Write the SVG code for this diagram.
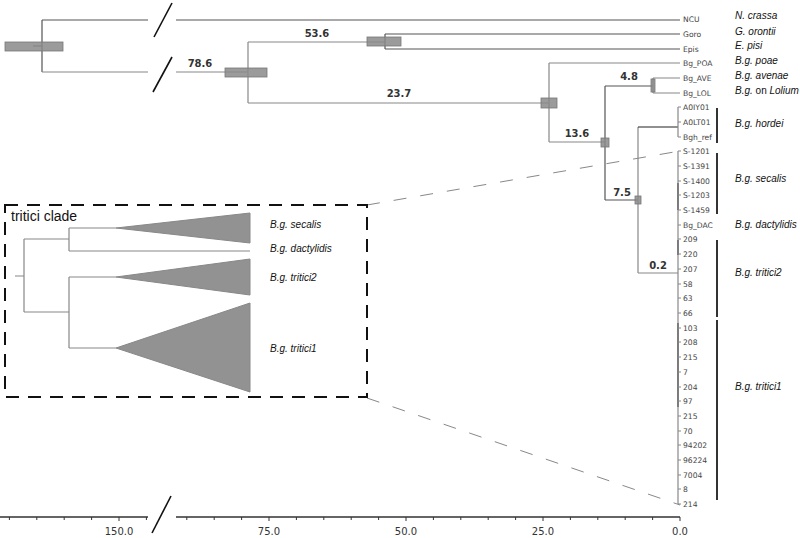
<svg xmlns="http://www.w3.org/2000/svg" width="800" height="538" viewBox="0 0 800 538">
<style>
.br{fill:none;stroke:#888;stroke-width:1.2}
.dk{fill:none;stroke:#555;stroke-width:1.2}
.hpd{fill:#8a8a8a;fill-opacity:0.85;stroke:#777;stroke-width:0.8}
.tip{font-family:"DejaVu Sans",sans-serif;font-size:7.6px;fill:#444}
.bl{font-family:"DejaVu Sans",sans-serif;font-size:10px;font-weight:bold;fill:#333}
.cl{font-family:"Liberation Sans",Arial,sans-serif;font-size:10px;font-style:italic;fill:#111}
.ax{font-family:"DejaVu Sans",sans-serif;font-size:10px;fill:#333}
.bar{stroke:#333;stroke-width:2}
.slash{stroke:#111;stroke-width:1.6}
.zoom{fill:none;stroke:#888;stroke-width:1;stroke-dasharray:13 14}
.tri{fill:#929292;stroke:#888;stroke-width:1}
</style>
<rect width="800" height="538" fill="#fff"/>

<g id="connectors">
  <path class="dk" d="M33,46 H42 M42,20 V72"/>
  <path class="dk" d="M42,20 H148 M176,20 H680"/>
  <path class="br" d="M42,72 H148 M176,72 H248"/>
  <path class="br" d="M248,42 V103"/>
  <path class="br" d="M248,42 H385"/>
  <path class="dk" d="M385,34 V49 M385,34 H680 M385,49 H680"/>
  <path class="br" d="M248,103 H549"/>
  <path class="br" d="M549,63 V142 M549,63 H680 M549,142 H605"/>
  <path class="dk" d="M605,86 V200 M605,86 H653 M605,200 H638"/>
  <path class="br" d="M653,78 V93 M653,78 H680 M653,93 H680"/>
  <path class="br" d="M638,127 V273"/>
  <path style="fill:none;stroke:#222;stroke-width:1.2" d="M638,127 H678"/>
  <path class="br" d="M638,273 H678"/>
  <path class="br" d="M678,107 V137 M678,107 H681 M678,122 H681 M678,137 H681"/>
  <path class="br" d="M678,151 V504"/>
  <path class="dk" d="M678,183 V210 M678,240 V255 M678,323 V407"/>
  <path class="br" d="M678,151 H681 M678,166 H681 M678,181 H681 M678,195 H681 M678,210 H681 M678,225 H681 M678,239 H681 M678,254 H681 M678,269 H681 M678,284 H681 M678,298 H681 M678,313 H681 M678,328 H681 M678,342 H681 M678,357 H681 M678,372 H681 M678,387 H681 M678,401 H681 M678,416 H681 M678,431 H681 M678,445 H681 M678,460 H681 M678,475 H681 M678,489 H681 M678,504 H681"/>
  <line class="slash" x1="154" y1="37" x2="172" y2="3"/>
  <line class="slash" x1="153" y1="92" x2="172" y2="57"/>
  <line class="zoom" x1="367" y1="205" x2="680" y2="151"/>
  <line class="zoom" x1="367" y1="398" x2="680" y2="505"/>
</g>

<g id="hpd-bars">
  <rect class="hpd" x="5" y="42" width="58" height="9"/>
  <rect class="hpd" x="225" y="68" width="42" height="9"/>
  <rect class="hpd" x="367" y="37" width="34" height="9"/>
  <rect class="hpd" x="541" y="98" width="16" height="10"/>
  <rect class="hpd" x="601" y="138" width="8" height="9"/>
  <rect class="hpd" x="651" y="79" width="4" height="13"/>
  <rect class="hpd" x="635" y="196" width="6" height="8"/>
</g>

<g id="branch-labels">
  <text class="bl" x="200" y="67" text-anchor="middle">78.6</text>
  <text class="bl" x="317" y="37" text-anchor="middle">53.6</text>
  <text class="bl" x="399" y="97" text-anchor="middle">23.7</text>
  <text class="bl" x="577" y="137" text-anchor="middle">13.6</text>
  <text class="bl" x="629" y="80" text-anchor="middle">4.8</text>
  <text class="bl" x="622" y="196" text-anchor="middle">7.5</text>
  <text class="bl" x="658" y="269" text-anchor="middle">0.2</text>
</g>

<g id="tips">
  <text class="tip" x="683" y="22">NCU</text>
  <text class="tip" x="683" y="37">Goro</text>
  <text class="tip" x="683" y="52">Epis</text>
  <text class="tip" x="683" y="66">Bg_POA</text>
  <text class="tip" x="683" y="81">Bg_AVE</text>
  <text class="tip" x="683" y="96">Bg_LOL</text>
  <text class="tip" x="683" y="110">A0IY01</text>
  <text class="tip" x="683" y="125">A0LT01</text>
  <text class="tip" x="683" y="140">Bgh_ref</text>
  <text class="tip" x="683" y="154">S-1201</text>
  <text class="tip" x="683" y="169">S-1391</text>
  <text class="tip" x="683" y="184">S-1400</text>
  <text class="tip" x="683" y="198">S-1203</text>
  <text class="tip" x="683" y="213">S-1459</text>
  <text class="tip" x="683" y="228">Bg_DAC</text>
  <text class="tip" x="683" y="242">209</text>
  <text class="tip" x="683" y="257">220</text>
  <text class="tip" x="683" y="272">207</text>
  <text class="tip" x="683" y="287">58</text>
  <text class="tip" x="683" y="301">63</text>
  <text class="tip" x="683" y="316">66</text>
  <text class="tip" x="683" y="331">103</text>
  <text class="tip" x="683" y="345">208</text>
  <text class="tip" x="683" y="360">215</text>
  <text class="tip" x="683" y="375">7</text>
  <text class="tip" x="683" y="390">204</text>
  <text class="tip" x="683" y="404">97</text>
  <text class="tip" x="683" y="419">215</text>
  <text class="tip" x="683" y="434">70</text>
  <text class="tip" x="683" y="448">94202</text>
  <text class="tip" x="683" y="463">96224</text>
  <text class="tip" x="683" y="478">7004</text>
  <text class="tip" x="683" y="492">8</text>
  <text class="tip" x="683" y="507">214</text>
</g>

<g id="clades">
  <line class="bar" x1="717" y1="108" x2="717" y2="143"/>
  <line class="bar" x1="717" y1="153" x2="717" y2="214"/>
  <line class="bar" x1="717" y1="240" x2="717" y2="317"/>
  <line class="bar" x1="717" y1="320" x2="717" y2="500"/>
  <text class="cl" x="735" y="19">N. crassa</text>
  <text class="cl" x="735" y="35">G. orontii</text>
  <text class="cl" x="735" y="49">E. pisi</text>
  <text class="cl" x="735" y="64">B.g. poae</text>
  <text class="cl" x="735" y="79">B.g. avenae</text>
  <text class="cl" x="735" y="94">B.g. <tspan font-style="normal">on</tspan> Lolium</text>
  <text class="cl" x="735" y="127">B.g. hordei</text>
  <text class="cl" x="735" y="182">B.g. secalis</text>
  <text class="cl" x="735" y="228">B.g. dactylidis</text>
  <text class="cl" x="735" y="276">B.g. tritici2</text>
  <text class="cl" x="735" y="390">B.g. tritici1</text>
</g>

<g id="inset">
  <rect x="5" y="205" width="362" height="192" fill="none" stroke="#111" stroke-width="2" stroke-dasharray="13 9"/>
  <text x="11" y="221" font-family="Liberation Sans, Arial, sans-serif" font-size="14" fill="#111">tritici clade</text>
  <path class="br" d="M15,276 H24 M24,239 V312 M24,239 H69 M24,312 H69 M69,228 V251 M69,228 H116 M69,251 H250 M69,277 V348 M69,277 H116 M69,348 H116"/>
  <polygon class="tri" points="116,228 250,213 250,243"/>
  <polygon class="tri" points="116,277 250,259 250,295"/>
  <polygon class="tri" points="116,348 250,303 250,392"/>
  <text class="cl" x="270" y="228">B.g. secalis</text>
  <text class="cl" x="270" y="252">B.g. dactylidis</text>
  <text class="cl" x="270" y="281">B.g. tritici2</text>
  <text class="cl" x="270" y="352">B.g. tritici1</text>
</g>

<g id="axis">
  <path d="M0,517 H148 M176,517 H680" stroke="#333" stroke-width="1.5" fill="none"/>
  <path d="M9.4,517 v3 M36.8,517 v3 M64.2,517 v3 M91.6,517 v3 M119,517 v4 M146.4,517 v3 M186.8,517 v3 M214.2,517 v3 M241.6,517 v3 M269,517 v4 M296.4,517 v3 M323.8,517 v3 M351.2,517 v3 M378.6,517 v3 M406,517 v4 M433.4,517 v3 M460.8,517 v3 M488.2,517 v3 M515.6,517 v3 M543,517 v4 M570.4,517 v3 M597.8,517 v3 M625.2,517 v3 M652.6,517 v3 M680,517 v4" stroke="#333" stroke-width="1" fill="none"/>
  <line class="slash" x1="152" y1="533" x2="171" y2="496"/>
  <text class="ax" x="119" y="535" text-anchor="middle">150.0</text>
  <text class="ax" x="269" y="535" text-anchor="middle">75.0</text>
  <text class="ax" x="406" y="535" text-anchor="middle">50.0</text>
  <text class="ax" x="543" y="535" text-anchor="middle">25.0</text>
  <text class="ax" x="680" y="535" text-anchor="middle">0.0</text>
</g>
</svg>
